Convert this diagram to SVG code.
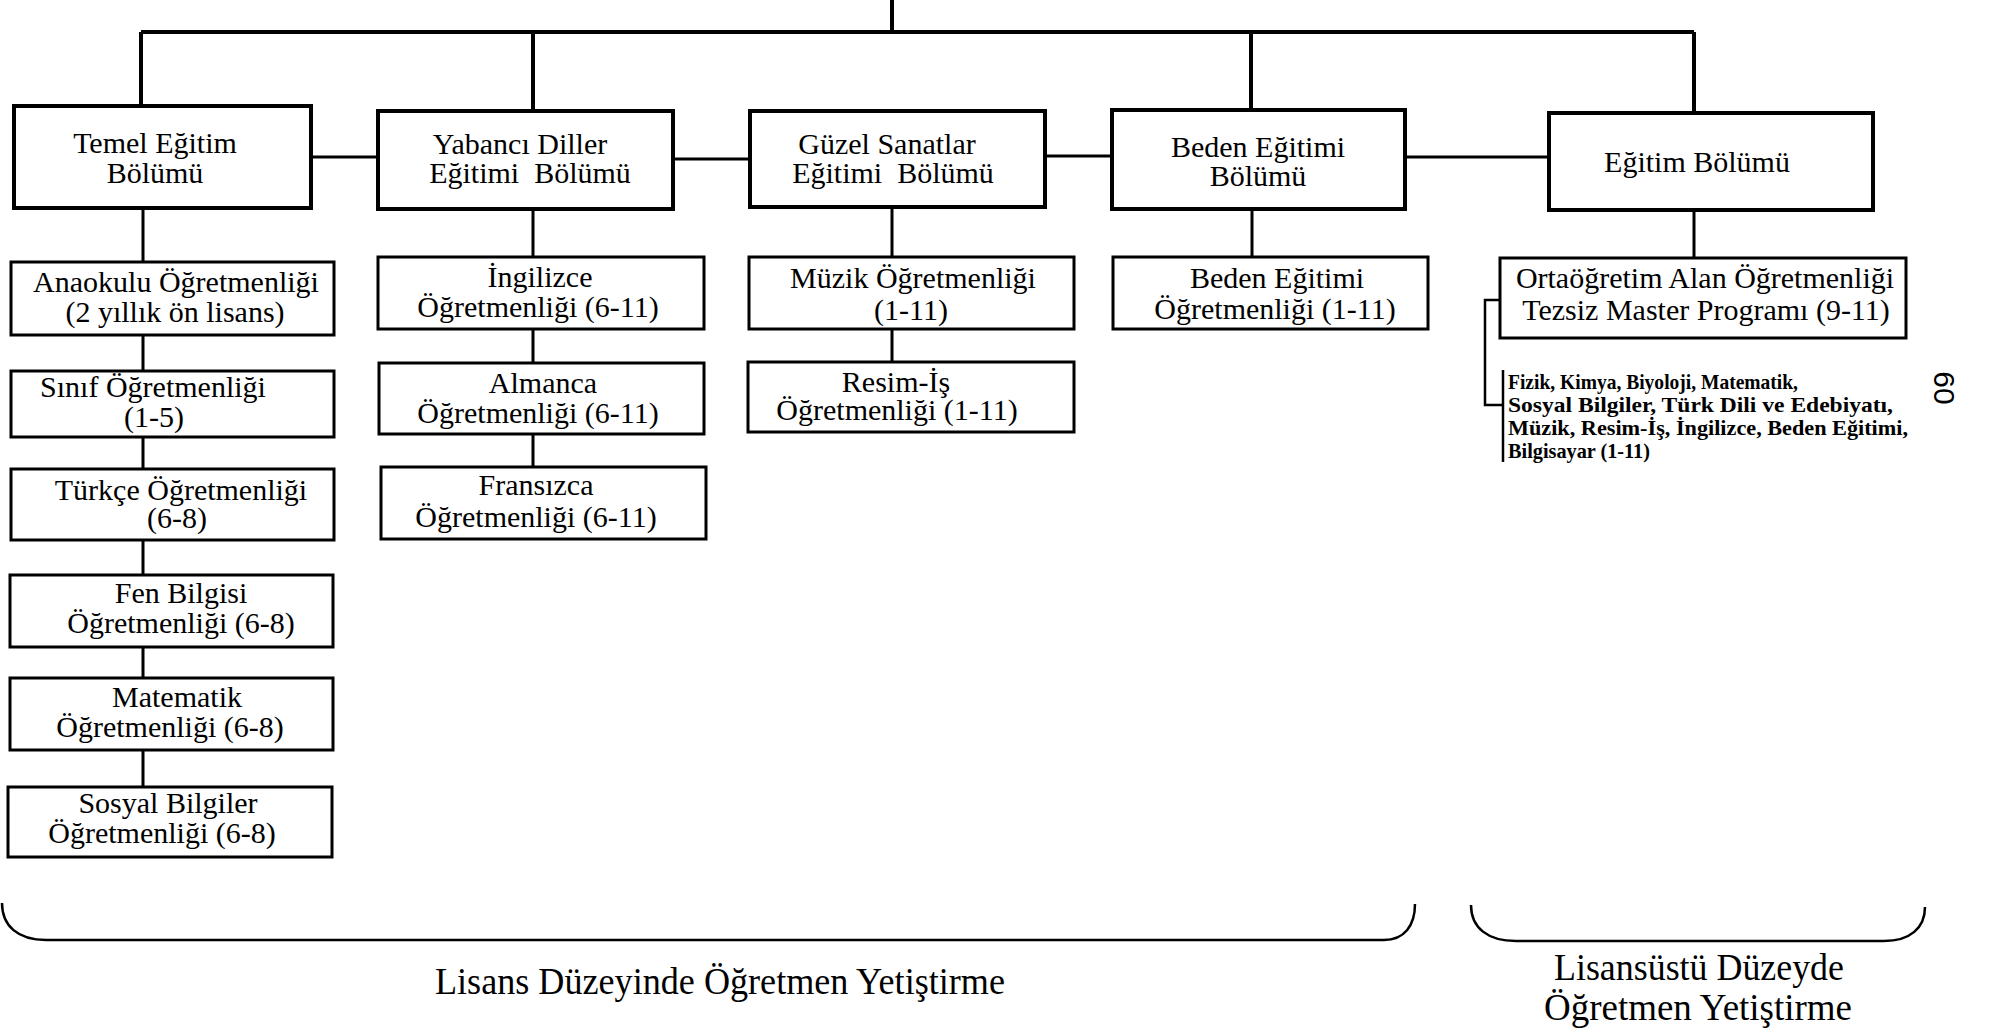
<svg xmlns="http://www.w3.org/2000/svg" width="2006" height="1031" viewBox="0 0 2006 1031">
<style>
.bg{fill:#fff}
.b1{fill:#fff;stroke:#000;stroke-width:4}
.b2{fill:#fff;stroke:#000;stroke-width:3}
.c{fill:none;stroke:#000;stroke-width:3}
.ct{fill:none;stroke:#000;stroke-width:4}
.br{fill:none;stroke:#000;stroke-width:2.5}
.t{font-family:"Liberation Serif","Times New Roman",serif;font-size:30px;fill:#000;text-anchor:middle}
.s{font-family:"Liberation Serif","Times New Roman",serif;font-size:21px;font-weight:bold;fill:#000}
.big{font-family:"Liberation Serif","Times New Roman",serif;font-size:38px;fill:#000;text-anchor:middle}
.pg{font-family:"Liberation Sans",Arial,sans-serif;font-size:30px;fill:#000;text-anchor:middle}
</style>
<rect class="bg" x="0" y="0" width="2006" height="1031"/>
<g id="connectors">
<path class="ct" d="M892,0 V32 M141,32 H1694 M141,32 V106 M533,32 V111 M1251,32 V110 M1694,32 V113"/>
<path class="c" d="M311,157 H378 M673,159 H750 M1045,156 H1112 M1405,157 H1549"/>
<path class="c" d="M143,208 V262 M143,335 V371 M143,437 V469 M143,540 V575 M143,647 V678 M143,750 V787"/>
<path class="c" d="M533,209 V257 M533,329 V363 M533,434 V467"/>
<path class="c" d="M892,207 V257 M892,329 V362"/>
<path class="c" d="M1252,209 V257"/>
<path class="c" d="M1694,210 V258"/>
<path class="br" d="M1500,300 H1485 V405 H1503 M1503,370 V462"/>
</g>
<g id="temel"><rect class="b1" x="14" y="106" width="297" height="102"/><text class="t" x="155" y="153">Temel Eğitim</text><text class="t" x="155" y="183">Bölümü</text></g>
<g id="yabanci"><rect class="b1" x="378" y="111" width="295" height="98"/><text class="t" x="520" y="154">Yabancı Diller</text><text class="t" x="530" y="183" xml:space="preserve">Eğitimi  Bölümü</text></g>
<g id="guzel"><rect class="b1" x="750" y="111" width="295" height="96"/><text class="t" x="887" y="154">Güzel Sanatlar</text><text class="t" x="893" y="183" xml:space="preserve">Eğitimi  Bölümü</text></g>
<g id="beden"><rect class="b1" x="1112" y="110" width="293" height="99"/><text class="t" x="1258" y="157">Beden Eğitimi</text><text class="t" x="1258" y="186">Bölümü</text></g>
<g id="egitim"><rect class="b1" x="1549" y="113" width="324" height="97"/><text class="t" x="1697" y="172">Eğitim Bölümü</text></g>
<g id="anaokulu"><rect class="b2" x="11" y="262" width="323" height="73"/><text class="t" x="176" y="292">Anaokulu Öğretmenliği</text><text class="t" x="175" y="322">(2 yıllık ön lisans)</text></g>
<g id="sinif"><rect class="b2" x="11" y="371" width="323" height="66"/><text class="t" x="153" y="397">Sınıf Öğretmenliği</text><text class="t" x="154" y="427">(1-5)</text></g>
<g id="turkce"><rect class="b2" x="11" y="469" width="323" height="71"/><text class="t" x="181" y="500">Türkçe Öğretmenliği</text><text class="t" x="177" y="528">(6-8)</text></g>
<g id="fen"><rect class="b2" x="10" y="575" width="323" height="72"/><text class="t" x="181" y="603">Fen Bilgisi</text><text class="t" x="181" y="633">Öğretmenliği (6-8)</text></g>
<g id="matematik"><rect class="b2" x="10" y="678" width="323" height="72"/><text class="t" x="177" y="707">Matematik</text><text class="t" x="170" y="737">Öğretmenliği (6-8)</text></g>
<g id="sosyal"><rect class="b2" x="8" y="787" width="324" height="70"/><text class="t" x="168" y="813">Sosyal Bilgiler</text><text class="t" x="162" y="843">Öğretmenliği (6-8)</text></g>
<g id="ingilizce"><rect class="b2" x="378" y="257" width="326" height="72"/><text class="t" x="540" y="287">İngilizce</text><text class="t" x="538" y="317">Öğretmenliği (6-11)</text></g>
<g id="almanca"><rect class="b2" x="379" y="363" width="325" height="71"/><text class="t" x="543" y="393">Almanca</text><text class="t" x="538" y="423">Öğretmenliği (6-11)</text></g>
<g id="fransizca"><rect class="b2" x="381" y="467" width="325" height="72"/><text class="t" x="536" y="495">Fransızca</text><text class="t" x="536" y="527">Öğretmenliği (6-11)</text></g>
<g id="muzik"><rect class="b2" x="749" y="257" width="325" height="72"/><text class="t" x="913" y="288">Müzik Öğretmenliği</text><text class="t" x="911" y="320">(1-11)</text></g>
<g id="resim"><rect class="b2" x="748" y="362" width="326" height="70"/><text class="t" x="896" y="392">Resim-İş</text><text class="t" x="897" y="420">Öğretmenliği (1-11)</text></g>
<g id="beden-ogr"><rect class="b2" x="1113" y="257" width="315" height="72"/><text class="t" x="1277" y="288">Beden Eğitimi</text><text class="t" x="1275" y="319">Öğretmenliği (1-11)</text></g>
<g id="ortaogretim"><rect class="b2" x="1500" y="258" width="406" height="80"/><text class="t" x="1705" y="288">Ortaöğretim Alan Öğretmenliği</text><text class="t" x="1706" y="320">Tezsiz Master Programı (9-11)</text></g>
<g id="alanlar">
<text class="s" x="1508" y="389" textLength="290" lengthAdjust="spacingAndGlyphs">Fizik, Kimya, Biyoloji, Matematik,</text>
<text class="s" x="1508" y="412" textLength="385" lengthAdjust="spacingAndGlyphs">Sosyal Bilgiler, Türk Dili ve Edebiyatı,</text>
<text class="s" x="1508" y="435" textLength="400" lengthAdjust="spacingAndGlyphs">Müzik, Resim-İş, İngilizce, Beden Eğitimi,</text>
<text class="s" x="1508" y="458" textLength="142" lengthAdjust="spacingAndGlyphs">Bilgisayar (1-11)</text>
</g>
<text class="pg" transform="translate(1934,388) rotate(90)">60</text>
<g id="lisans">
<path class="br" d="M2,903 C2,926 18,940 46,940 L1384,940 C1404,940 1415,926 1415,904"/>
<text class="big" x="720" y="994" textLength="570" lengthAdjust="spacingAndGlyphs">Lisans Düzeyinde Öğretmen Yetiştirme</text>
</g>
<g id="lisansustu">
<path class="br" d="M1471,905 C1471,928 1488,941 1516,941 L1884,941 C1910,941 1925,928 1925,907"/>
<text class="big" x="1699" y="980" textLength="290" lengthAdjust="spacingAndGlyphs">Lisansüstü Düzeyde</text>
<text class="big" x="1698" y="1020" textLength="308" lengthAdjust="spacingAndGlyphs">Öğretmen Yetiştirme</text>
</g>
</svg>
